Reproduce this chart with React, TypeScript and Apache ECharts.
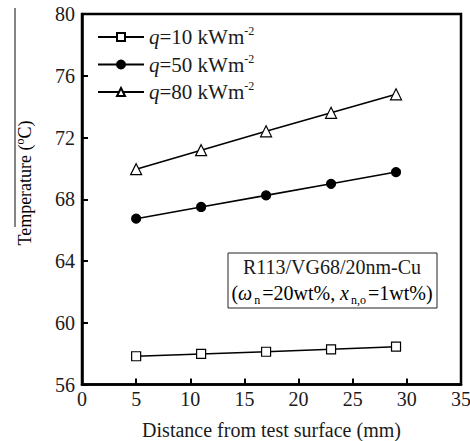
import React, { useEffect, useRef } from "react";
import * as echarts from "echarts";

const distances = [5, 11, 17, 23, 29];
const q10 = [57.83, 57.98, 58.12, 58.28, 58.45];
const q50 = [66.74, 67.5, 68.25, 69.0, 69.76];
const q80 = [69.95, 71.18, 72.4, 73.6, 74.8];
const seriesNames = ["q=10", "q=50", "q=80"];
const xTicks = { min: 0, max: 35, interval: 5 };
const yTicks = { min: 56, max: 80, interval: 4 };

const FONT = "Liberation Serif";
const TXT = "#1a1a1a";
const FS = 20;

export default function App() {
  const ref = useRef<HTMLDivElement>(null);
  useEffect(() => {
    if (!ref.current) return;
    const chart = echarts.init(ref.current, undefined, { renderer: "svg" });
    const mk = (name: string, data: number[], symbol: string, filled: boolean, size: number) => ({
      name,
      type: "line",
      data: distances.map((d, i) => [d, data[i]]),
      symbol,
      symbolSize: size,
      showAllSymbol: true,
      lineStyle: { color: "#000", width: 1.6 },
      itemStyle: { color: filled ? "#000" : "#fff", borderColor: "#000", borderWidth: 1.2 },
      z: 3,
    });
    const legRich = {
      i: { fontFamily: FONT, fontStyle: "italic", fontSize: 21, color: TXT },
      t: { fontFamily: FONT, fontSize: 21, color: TXT },
      sup: { fontFamily: FONT, fontSize: 12, color: TXT, verticalAlign: "top", padding: [0, 0, 12, 0] },
    };
    const rich = {
      i: { fontFamily: FONT, fontStyle: "italic", fontSize: FS, color: TXT },
      t: { fontFamily: FONT, fontSize: FS, color: TXT },
      sup: { fontFamily: FONT, fontSize: 12, color: TXT, verticalAlign: "top", padding: [0, 0, 10, 0] },
      s: { fontFamily: FONT, fontSize: 12, color: TXT, verticalAlign: "bottom", padding: [14, 2, 0, 2] },
    };
    chart.setOption({
      animation: false,
      backgroundColor: "#fff",
      textStyle: { fontFamily: FONT, color: TXT },
      grid: {
        left: 82, right: 9, top: 14, bottom: 56.5,
        show: true, borderColor: "#000", borderWidth: 2.5,
        containLabel: false, outerBoundsMode: "none",
      },
      legend: {
        left: 92,
        top: 20,
        orient: "vertical",
        itemWidth: 46,
        itemHeight: 10,
        itemGap: 5,
        data: seriesNames,
        textStyle: { rich: legRich, fontFamily: FONT, fontSize: 21, color: TXT },
        formatter: (n: string) => `{i|q}{t|${n.slice(1)} kWm}{sup|-2}`,
      },
      xAxis: {
        type: "value",
        ...xTicks,
        axisLine: { lineStyle: { color: "#000", width: 2.5 } },
        axisTick: { inside: true, length: 6, lineStyle: { color: "#000", width: 2 } },
        splitLine: { show: false },
        axisLabel: { fontFamily: FONT, fontSize: FS, color: TXT, margin: 4 },
        name: "Distance from test surface (mm)",
        nameLocation: "middle",
        nameGap: 35,
        nameTextStyle: { fontFamily: FONT, fontSize: FS, color: TXT },
      },
      yAxis: {
        type: "value",
        ...yTicks,
        axisLine: { lineStyle: { color: "#000", width: 2.5 } },
        axisTick: { inside: true, length: 6, lineStyle: { color: "#000", width: 2 } },
        splitLine: { show: false },
        axisLabel: { fontFamily: FONT, fontSize: FS, color: TXT, margin: 7 },
      },
      series: [
        mk(seriesNames[0], q10, "rect", false, 9),
        mk(seriesNames[1], q50, "circle", true, 9),
        mk(seriesNames[2], q80, "triangle", false, 11),
      ],
      graphic: [
        { type: "line", shape: { x1: 15, y1: 8, x2: 15, y2: 227 }, style: { stroke: "#333", lineWidth: 1.2 } },
        {
          type: "text",
          x: 25,
          y: 183,
          rotation: Math.PI / 2,
          style: {
            text: "{t|Temperature (}{sup|o}{t|C)}",
            rich: { ...rich, t: { ...rich.t, fontSize: 18 } },
            align: "center",
            verticalAlign: "middle",
          },
        },
        { type: "rect", shape: { x: 228, y: 253, width: 209, height: 55 }, style: { fill: "#fff", stroke: "#222", lineWidth: 1 } },
        {
          type: "text",
          x: 332,
          y: 267,
          style: { text: "R113/VG68/20nm-Cu", fontFamily: FONT, fontSize: FS, fill: TXT, align: "center", verticalAlign: "middle" },
        },
        {
          type: "text",
          x: 332,
          y: 293,
          style: {
            text: "{t|(}{i|ω}{s|n}{t|=20wt%, }{i|x}{s|n,o}{t|=1wt%)}",
            rich,
            align: "center",
            verticalAlign: "middle",
          },
        },
      ],
    });
    return () => chart.dispose();
  }, []);
  return <div ref={ref} style={{ width: 470, height: 441, position: "absolute", left: 0, top: 0 }} />;
}
